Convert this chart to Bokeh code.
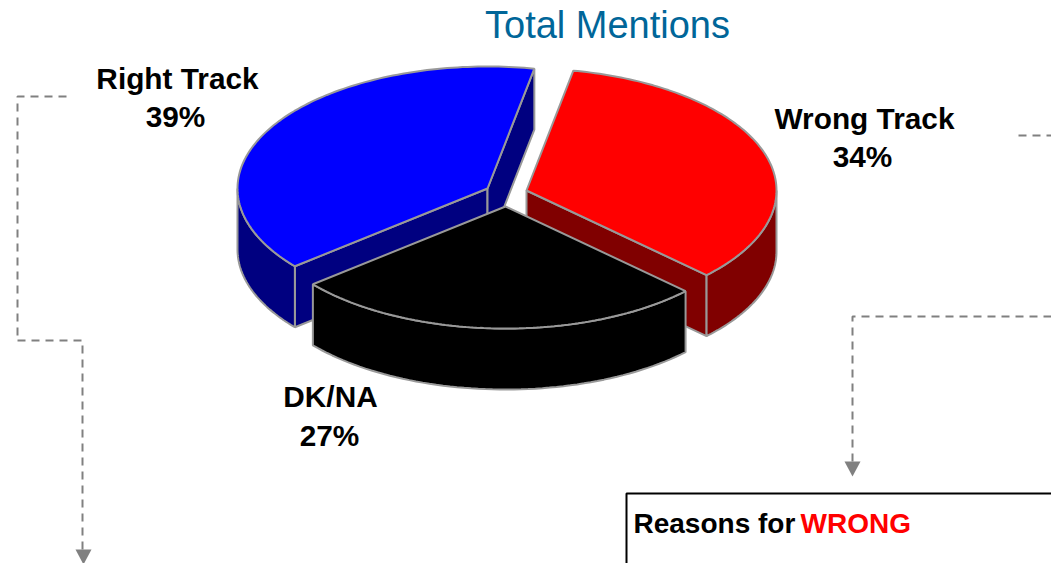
import numpy as np
from bokeh.plotting import figure
from bokeh.embed import file_html
from bokeh.resources import INLINE
from bokeh.core.properties import value

# --- data ---
categories = ["Wrong Track", "DK/NA", "Right Track"]
shares = [34.2, 26.8, 39.0]
top_colors = ["#FF0000", "#000000", "#0000FF"]
side_colors = ["#800000", "#000000", "#000080"]
title_text = "Total Mentions"
box_text_a = "Reasons for "
box_text_b = "WRONG"

# --- layout (page pixels) ---
PAGE_W, PAGE_H = 1051, 563
RX, RY, DEPTH = 250, 122, 61
FIRST_ANGLE = 10.8
apex = {"Wrong Track": (526, 190), "DK/NA": (505, 206), "Right Track": (487, 188)}
label_pos = {"Wrong Track": (864, 118, 862, 156), "DK/NA": (330, 396, 329, 435), "Right Track": (177, 78, 175, 116)}
draw_order = ["Right Track", "Wrong Track", "DK/NA"]
EDGE = "#999999"
DASH = "#808080"
FONT = value("Liberation Sans")

p = figure(width=PAGE_W, height=PAGE_H, x_range=(0, PAGE_W), y_range=(PAGE_H, 0),
           output_backend="svg", toolbar_location=None, min_border=0)
p.axis.visible = False
p.grid.visible = False
p.outline_line_color = None

def rim(cx, cy, t):
    r = np.radians(t)
    return cx + RX * np.sin(r), cy - RY * np.cos(r)

# slice angle spans from the shares
spans = {}
a = FIRST_ANGLE
for c, s in zip(categories, shares):
    spans[c] = (a, a + s * 3.6)
    a += s * 3.6

for name in draw_order:
    i = categories.index(name)
    t0, t1 = spans[name]
    cx, cy = apex[name]
    top, side = top_colors[i], side_colors[i]
    # cut faces that look towards the viewer
    for t, sign in ((t0, -1), (t1, 1)):
        if sign * np.sin(np.radians(t)) > 0:
            x, y = rim(cx, cy, t)
            p.patch([cx, x, x, cx], [cy, y, y + DEPTH, cy + DEPTH], fill_color=side,
                    line_color=EDGE, line_width=2)
    # outer wall: front half of the rim only
    walls = []
    for k in (0, 360):
        lo, hi = max(t0, 90 + k), min(t1, 270 + k)
        if lo < hi:
            walls.append((lo, hi))
    for lo, hi in walls:
        ts = np.linspace(lo, hi, 60)
        xs, ys = rim(cx, cy, ts)
        p.patch(np.r_[xs, xs[::-1]], np.r_[ys, ys[::-1] + DEPTH], fill_color=side,
                line_color=EDGE, line_width=2)
    # top
    ts = np.linspace(t0, t1, 120)
    xs, ys = rim(cx, cy, ts)
    p.patch(np.r_[cx, xs], np.r_[cy, ys], fill_color=top, line_color=EDGE, line_width=2)

# labels
for c, s in zip(categories, shares):
    x1, y1, x2, y2 = label_pos[c]
    p.text([x1], [y1], text=[c], text_font=FONT, text_font_style="bold", text_font_size="29.8px",
           text_align="center", text_baseline="middle", text_color="#000000")
    p.text([x2], [y2], text=[f"{round(s)}%"], text_font=FONT, text_font_style="bold", text_font_size="29.8px",
           text_align="center", text_baseline="middle", text_color="#000000")

p.text([607], [24], text=[title_text], text_font=FONT, text_font_size="38px", text_align="center",
       text_baseline="middle", text_color="#006699")

# connectors
def dashed(xs, ys):
    p.line(xs, ys, line_color=DASH, line_width=2, line_dash="8 6")

def arrow(x, y0, y1):
    p.patch([x - 8, x + 8, x], [y0, y0, y1], fill_color=DASH, line_color=None)

dashed([66, 17, 17], [96, 96, 340])
dashed([17, 82, 82], [340, 340, 550])
arrow(83, 549, 564)
dashed([1018, PAGE_W], [135, 135])
dashed([PAGE_W, 852, 852], [316, 316, 462])
arrow(852, 461, 476)

# reasons box
p.line([626, 626, PAGE_W], [PAGE_H, 493, 493], line_color="#000000", line_width=2)
p.text([633], [523], text=[box_text_a], text_font=FONT, text_font_style="bold", text_font_size="28px",
       text_align="left", text_baseline="middle", text_color="#000000")
p.text([800], [523], text=[box_text_b], text_font=FONT, text_font_style="bold", text_font_size="28px",
       text_align="left", text_baseline="middle", text_color="#FF0000")

open("out.html", "w").write(file_html(p, INLINE))
